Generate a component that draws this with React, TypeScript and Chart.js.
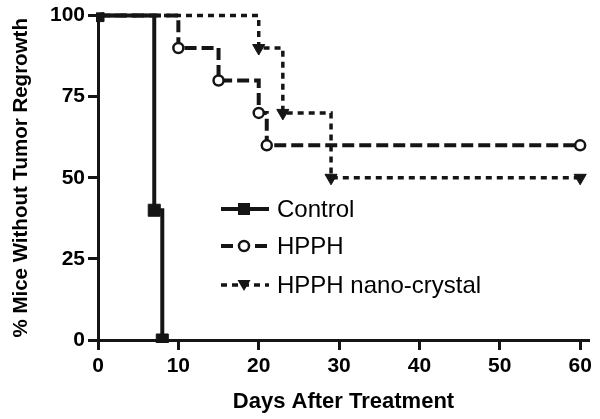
import React, { useEffect, useRef } from "react";
import { Chart, registerables } from "chart.js";

Chart.register(...registerables);

const controlDays = [0, 7, 8];
const controlValues = [100, 40, 0];
const hpphDays = [0, 10, 15, 20, 21, 60];
const hpphValues = [100, 90, 80, 70, 60, 60];
const nanoDays = [0, 20, 23, 29, 60];
const nanoValues = [100, 90, 70, 50, 50];
const seriesLabels = ["Control", "HPPH", "HPPH nano-crystal"];
const xTickValues = [0, 10, 20, 30, 40, 50, 60];
const yTickValues = [0, 25, 50, 75, 100];
const xTitle = "Days After Treatment";
const yTitle = "% Mice Without Tumor Regrowth";

const INK = "#151515";
const FONT = "'Liberation Sans', Arial, sans-serif";

const toPoints = (xs: number[], ys: number[]) => xs.map((x, i) => ({ x, y: ys[i] }));

const legendPlugin = {
  id: "insetLegend",
  afterDraw(chart: any) {
    const ctx = chart.ctx;
    const rows = [
      { label: seriesLabels[0], dash: [], width: 4, style: "rect", y: 209 },
      { label: seriesLabels[1], dash: [12, 5], width: 4, style: "circle", y: 246 },
      { label: seriesLabels[2], dash: [6, 5], width: 3.5, style: "tri", y: 285 },
    ];
    const x0 = 221;
    const x1 = 269;
    const mx = 244;
    ctx.save();
    rows.forEach((r) => {
      ctx.strokeStyle = INK;
      ctx.lineWidth = r.width;
      ctx.setLineDash(r.dash);
      ctx.beginPath();
      ctx.moveTo(x0, r.y);
      ctx.lineTo(x1, r.y);
      ctx.stroke();
      ctx.setLineDash([]);
      ctx.fillStyle = INK;
      if (r.style === "rect") {
        ctx.fillRect(mx - 6, r.y - 6, 12, 12);
      } else if (r.style === "circle") {
        ctx.fillStyle = "#fff";
        ctx.lineWidth = 2.5;
        ctx.beginPath();
        ctx.arc(mx, r.y, 5, 0, Math.PI * 2);
        ctx.fill();
        ctx.stroke();
      } else {
        ctx.beginPath();
        ctx.moveTo(mx - 6.5, r.y - 5);
        ctx.lineTo(mx + 6.5, r.y - 5);
        ctx.lineTo(mx, r.y + 6);
        ctx.closePath();
        ctx.fill();
      }
      ctx.fillStyle = "#000";
      ctx.font = `24px ${FONT}`;
      ctx.textBaseline = "middle";
      ctx.textAlign = "left";
      ctx.fillText(r.label, 277, r.y + 1);
    });
    ctx.restore();
  },
};

export default function App() {
  const ref = useRef<HTMLCanvasElement | null>(null);

  useEffect(() => {
    if (!ref.current) return;
    const common = {
      borderColor: INK,
      backgroundColor: INK,
      pointBorderColor: INK,
      stepped: "before" as const,
      fill: false,
      tension: 0,
      clip: { left: 2, top: 3, right: 10, bottom: 3 },
    };
    const chart = new Chart(ref.current, {
      type: "line",
      data: {
        datasets: [
          {
            ...common,
            label: seriesLabels[0],
            data: toPoints(controlDays, controlValues),
            borderWidth: 4,
            pointStyle: "rect",
            pointRadius: 8.5,
            pointBackgroundColor: INK,
            pointBorderWidth: 1,
          },
          {
            ...common,
            label: seriesLabels[1],
            data: toPoints(hpphDays, hpphValues),
            borderWidth: 4,
            borderDash: [12, 5],
            pointStyle: "circle",
            pointRadius: 5,
            pointBackgroundColor: "#fff",
            pointBorderWidth: 2.5,
          },
          {
            ...common,
            label: seriesLabels[2],
            data: toPoints(nanoDays, nanoValues),
            borderWidth: 3.5,
            borderDash: [6, 5],
            pointStyle: "triangle",
            pointRotation: 180,
            pointRadius: 7,
            pointBackgroundColor: INK,
            pointBorderWidth: 1,
          },
        ],
      },
      options: {
        responsive: false,
        animation: false,
        devicePixelRatio: 1,
        layout: { padding: { top: 14, right: 11, left: 0, bottom: 0 } },
        plugins: {
          legend: { display: false },
          tooltip: { enabled: false },
        },
        scales: {
          x: {
            type: "linear",
            min: 0,
            max: 61.1,
            afterBuildTicks: (scale: any) => {
              scale.ticks = xTickValues.map((v) => ({ value: v }));
            },
            afterFit: (scale: any) => {
              scale.height = 79;
            },
            grid: {
              display: true,
              drawOnChartArea: false,
              drawTicks: true,
              tickLength: 10,
              tickWidth: 3,
              tickColor: INK,
            },
            border: { display: true, width: 3, color: INK },
            ticks: {
              color: "#000",
              padding: 4,
              maxRotation: 0,
              font: { family: FONT, size: 21, weight: "bold" },
            },
            title: {
              display: true,
              text: xTitle,
              color: "#000",
              font: { family: FONT, size: 22, weight: "bold" },
              padding: { top: 0, bottom: 4 },
            },
          },
          y: {
            type: "linear",
            min: 0,
            max: 100,
            afterBuildTicks: (scale: any) => {
              scale.ticks = yTickValues.map((v) => ({ value: v }));
            },
            afterFit: (scale: any) => {
              scale.width = 98;
            },
            grid: {
              display: true,
              drawOnChartArea: false,
              drawTicks: true,
              tickLength: 10,
              tickWidth: 3,
              tickColor: INK,
            },
            border: { display: true, width: 3, color: INK },
            ticks: {
              color: "#000",
              padding: 3,
              font: { family: FONT, size: 21, weight: "bold" },
            },
            title: {
              display: true,
              text: yTitle,
              color: "#000",
              font: { family: FONT, size: 20.5, weight: "bold" },
              padding: { top: 9, bottom: 0 },
            },
          },
        },
      },
      plugins: [legendPlugin],
    });
    return () => chart.destroy();
  }, []);

  return (
    <div style={{ position: "fixed", left: 0, top: 0, width: 600, height: 419, background: "#fff" }}>
      <canvas ref={ref} width={600} height={419} style={{ display: "block" }} />
    </div>
  );
}
